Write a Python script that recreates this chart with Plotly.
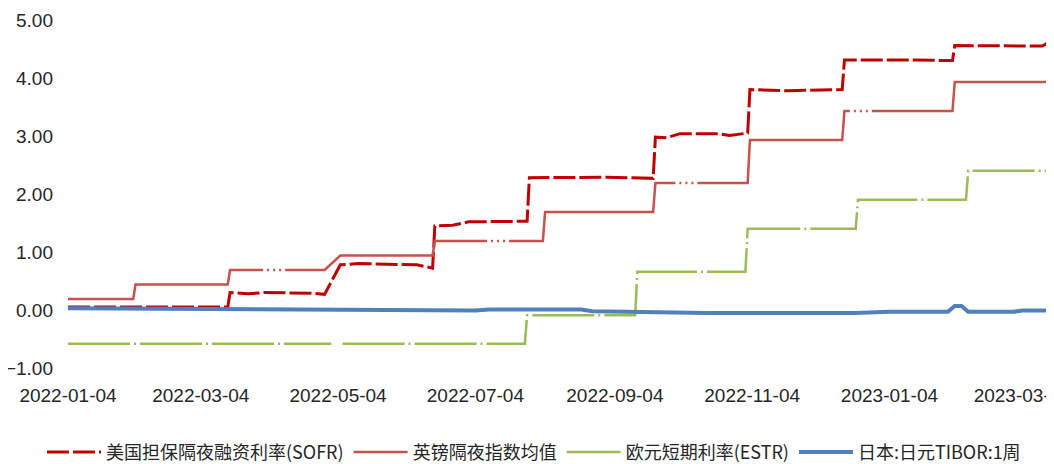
import plotly.graph_objects as go

# ---------------- data ----------------
sofr_dates = ["2022-01-04", "2022-02-15", "2022-03-16", "2022-03-17", "2022-03-25", "2022-04-01",
              "2022-04-12", "2022-04-22", "2022-04-28", "2022-05-05", "2022-05-13", "2022-05-31",
              "2022-06-08", "2022-06-15", "2022-06-16", "2022-06-24", "2022-07-01", "2022-07-27",
              "2022-07-28", "2022-08-31", "2022-09-21", "2022-09-22", "2022-09-27", "2022-10-03",
              "2022-10-20", "2022-10-25", "2022-11-02", "2022-11-03", "2022-11-20", "2022-12-14",
              "2022-12-15", "2023-01-15", "2023-02-01", "2023-02-02", "2023-03-13", "2023-03-15"]
sofr_vals = [0.05, 0.05, 0.05, 0.30, 0.28, 0.30, 0.29, 0.29, 0.27, 0.78, 0.80, 0.79,
             0.78, 0.72, 1.45, 1.46, 1.52, 1.53, 2.28, 2.29, 2.27, 2.98, 2.97, 3.04,
             3.04, 3.01, 3.05, 3.80, 3.78, 3.80, 4.31, 4.31, 4.30, 4.56, 4.55, 4.60]

gbp_dates = ["2022-01-04", "2022-02-02", "2022-02-03", "2022-03-16", "2022-03-17", "2022-04-28",
             "2022-05-05", "2022-06-15", "2022-06-16", "2022-08-03", "2022-08-04", "2022-09-21",
             "2022-09-22", "2022-11-02", "2022-11-03", "2022-12-14", "2022-12-15", "2023-02-01",
             "2023-02-02", "2023-03-15"]
gbp_vals = [0.19, 0.19, 0.44, 0.44, 0.69, 0.69, 0.94, 0.94, 1.19, 1.19, 1.69, 1.69,
            2.19, 2.19, 2.93, 2.93, 3.43, 3.43, 3.93, 3.93]

estr_dates = ["2022-01-04", "2022-03-01", "2022-05-01", "2022-05-03", "2022-05-06", "2022-07-26",
              "2022-07-27", "2022-09-13", "2022-09-14", "2022-11-01", "2022-11-02", "2022-12-20",
              "2022-12-21", "2023-02-07", "2023-02-08", "2023-03-15"]
estr_vals = [-0.58, -0.58, -0.58, None, -0.58, -0.58,
             -0.09, -0.09, 0.66, 0.66, 1.40, 1.40,
             1.90, 1.90, 2.40, 2.40]

jpy_dates = ["2022-01-04", "2022-02-15", "2022-03-20", "2022-04-20", "2022-05-01", "2022-07-04",
             "2022-07-10", "2022-08-20", "2022-08-25", "2022-09-20", "2022-10-15", "2022-12-20",
             "2023-01-04", "2023-01-30", "2023-02-02", "2023-02-05", "2023-02-08", "2023-02-28",
             "2023-03-04", "2023-03-15"]
jpy_vals = [0.03, 0.02, 0.01, 0.00, -0.01, -0.01,
            0.01, 0.01, -0.02, -0.03, -0.05, -0.05,
            -0.03, -0.03, 0.07, 0.07, -0.03, -0.03,
            -0.01, -0.01]

names = ["美国担保隔夜融资利率(SOFR)", "英镑隔夜指数均值", "欧元短期利率(ESTR)", "日本:日元TIBOR:1周"]

tick_dates = ["2022-01-04", "2022-03-04", "2022-05-04", "2022-07-04", "2022-09-04",
              "2022-11-04", "2023-01-04", "2023-03-04"]
x_range = ["2022-01-04", "2023-03-15"]
y_ticks = [-1, 0, 1, 2, 3, 4, 5]

# ---------------- figure ----------------
fig = go.Figure()
fig.add_trace(go.Scatter(x=sofr_dates, y=sofr_vals, name=names[0], mode="lines",
                         line=dict(color="#C00000", width=3, dash="22px,4px")))
fig.add_trace(go.Scatter(x=gbp_dates, y=gbp_vals, name=names[1], mode="lines",
                         line=dict(color="#C8504D", width=2.5, dash="220px,4px,2px,4px,2px,4px,2px,4px")))
fig.add_trace(go.Scatter(x=estr_dates, y=estr_vals, name=names[2], mode="lines",
                         line=dict(color="#9BBB59", width=2.5, dash="62px,4px,2px,4px")))
fig.add_trace(go.Scatter(x=jpy_dates, y=jpy_vals, name=names[3], mode="lines",
                         line=dict(color="#4F81BD", width=4)))

tick_font = dict(family="Liberation Sans, Arial", size=19, color="#262626")

# page body has an 8px default margin; the figure is sized so that it fills the window
fig.update_layout(
    width=1046, height=456,
    margin=dict(l=60, r=7, t=12, b=96, autoexpand=False),
    plot_bgcolor="white", paper_bgcolor="white",
    showlegend=True,
    legend=dict(orientation="h", x=0.476, xanchor="center", y=-0.242, yanchor="middle",
                font=dict(family="Noto Sans CJK SC", size=18, color="#262626"),
                itemwidth=54, bgcolor="rgba(0,0,0,0)"),
    xaxis=dict(type="date", range=x_range, tickvals=tick_dates, tickformat="%Y-%m-%d",
               showgrid=False, zeroline=False, showline=False, ticks="",
               ticklabelstandoff=14, tickfont=tick_font, automargin=False,
               ticklabeloverflow="allow"),
    xaxis2=dict(type="date", range=x_range, overlaying="x", anchor="free", position=1/6,
                side="bottom", tickvals=tick_dates, showticklabels=False, showgrid=False,
                zeroline=False, showline=True, linecolor="#BFBFBF", linewidth=1,
                ticks="outside", ticklen=6, tickcolor="#BFBFBF", tickwidth=1,
                automargin=False),
    yaxis=dict(range=[-1, 5], tickvals=y_ticks, tickformat=".2f", showgrid=False,
               zeroline=False, showline=False, ticks="", ticklabelstandoff=14,
               tickfont=tick_font, automargin=False),
)

fig.write_html("out.html")
